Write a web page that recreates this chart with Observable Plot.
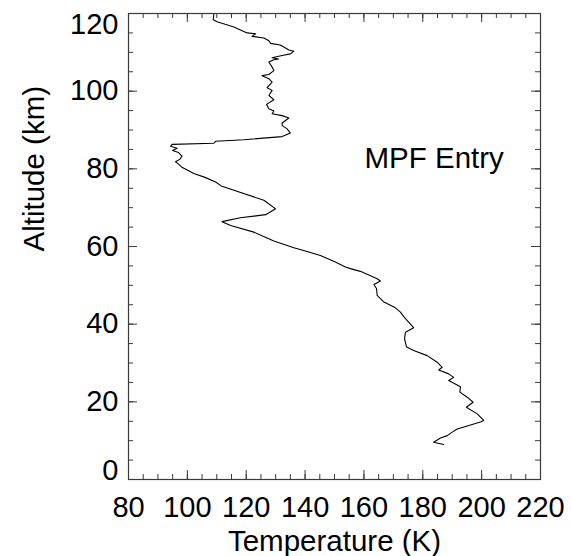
<!DOCTYPE html>
<html>
<head>
<meta charset="utf-8">
<script src="https://cdn.jsdelivr.net/npm/d3@7"></script>
<script src="https://cdn.jsdelivr.net/npm/@observablehq/plot@0.6"></script>
<style>
  html, body { margin: 0; padding: 0; background: #fff; }
  #chart svg { display: block; }
</style>
</head>
<body>
<div id="chart"></div>
<script>
// Temperature profile (K) vs altitude (km), top to bottom
const temperature = [
  109.0, 108.8, 110.1, 115.8, 120.3, 123.2, 122.0, 126.0, 127.7, 128.3,
  131.6, 134.5, 136.2, 135.0, 132.2, 128.8, 131.0, 129.4, 127.7, 128.8,
  129.4, 127.7, 125.4, 127.7, 128.8, 127.1, 128.8, 127.7, 129.4, 126.9,
  127.7, 129.4, 128.8, 132.2, 134.5, 132.2, 132.2, 133.9, 135.0, 132.2,
  119.2, 109.6, 109.0, 94.8, 94.3, 96.5, 95.0, 97.0, 98.2, 97.5,
  96.0, 97.0, 98.0, 102.2, 106.0, 109.6, 111.5, 126.0, 130.0, 126.6,
  118.0, 111.8, 114.7, 122.6, 127.1, 129.4, 136.2, 140.7, 145.2, 150.3,
  153.7, 155.4, 158.8, 164.5, 165.6, 163.4, 164.3, 164.5, 166.8, 170.7,
  172.4, 174.1, 176.9, 174.1, 173.8, 174.5, 176.9, 181.5, 184.9, 186.6,
  185.4, 188.8, 190.5, 188.8, 192.8, 192.6, 195.1, 197.1, 194.8, 198.5,
  200.7, 199.6, 191.7, 190.0, 188.3, 186.0, 183.7, 187.1
];
const altitude = [
  119.8, 118.4, 117.9, 116.5, 115.0, 114.8, 114.1, 113.7, 113.0, 112.3,
  111.9, 110.6, 110.3, 109.6, 109.2, 108.6, 108.3, 108.1, 107.5, 106.2,
  105.3, 104.3, 104.0, 103.2, 102.3, 100.9, 100.2, 98.9, 97.8, 96.6,
  95.5, 94.9, 94.2, 93.7, 93.1, 91.8, 91.2, 90.3, 89.2, 88.3,
  87.5, 87.1, 86.6, 86.3, 85.8, 85.3, 84.7, 84.2, 83.3, 82.5,
  81.8, 81.2, 80.5, 78.8, 77.8, 76.6, 75.6, 71.9, 69.7, 68.2,
  67.4, 66.4, 65.4, 63.7, 62.2, 61.4, 59.7, 58.7, 57.7, 56.0,
  54.7, 54.3, 53.6, 51.7, 51.1, 50.2, 49.1, 47.4, 45.7, 44.2,
  43.1, 41.4, 39.1, 37.9, 36.2, 34.1, 33.2, 31.9, 30.2, 28.9,
  28.2, 27.2, 26.3, 25.5, 23.9, 22.5, 21.2, 19.9, 18.6, 16.9,
  15.2, 14.8, 13.0, 12.2, 11.3, 10.7, 9.6, 9.0
];
const xTicks = [80, 100, 120, 140, 160, 180, 200, 220];
const yTicks = [0, 20, 40, 60, 80, 100, 120];
const xMinor = d3.range(80, 221, 5);
const yMinor = d3.range(0, 121, 5);
const xTitle = "Temperature (K)";
const yTitle = "Altitude (km)";
const annotation = {label: "MPF Entry", T: 160.2, alt: 80.3};

const profile = temperature.map((t, i) => ({T: t, alt: altitude[i]}));

const W = 571, H = 556;
const mL = 128, mR = 31, mT = 13, mB = 77;
const plotH = H - mT - mB, plotW = W - mL - mR;
const majorLen = 9, minorLen = 5;
const axisColor = "#3a3a3a";
const font = "'Liberation Sans', Arial, Helvetica, sans-serif";
const tickFont = 29, titleFont = 29.5;

const yLo = yTicks[0], yHi = yTicks[yTicks.length - 1];
const yMid = yTicks.filter(d => d !== yLo && d !== yHi);

const chart = Plot.plot({
  width: W,
  height: H,
  marginLeft: mL, marginRight: mR, marginTop: mT, marginBottom: mB,
  style: {fontFamily: font, background: "#fff", color: "#000"},
  x: {domain: [80, 220]},
  y: {domain: [0, 120]},
  marks: [
    // minor ticks (inward, mirrored on all four sides)
    Plot.ruleX(xMinor, {x: d => d, insetTop: plotH - minorLen, stroke: axisColor}),
    Plot.ruleX(xMinor, {x: d => d, insetBottom: plotH - minorLen, stroke: axisColor}),
    Plot.ruleY(yMinor, {y: d => d, insetRight: plotW - minorLen, stroke: axisColor}),
    Plot.ruleY(yMinor, {y: d => d, insetLeft: plotW - minorLen, stroke: axisColor}),
    // major ticks
    Plot.ruleX(xTicks, {x: d => d, insetTop: plotH - majorLen, stroke: axisColor}),
    Plot.ruleX(xTicks, {x: d => d, insetBottom: plotH - majorLen, stroke: axisColor}),
    Plot.ruleY(yTicks, {y: d => d, insetRight: plotW - majorLen, stroke: axisColor}),
    Plot.ruleY(yTicks, {y: d => d, insetLeft: plotW - majorLen, stroke: axisColor}),
    Plot.frame({stroke: axisColor, strokeWidth: 1.2}),
    // tick labels
    Plot.axisX({anchor: "bottom", ticks: xTicks, tickSize: 0, tickPadding: 17,
      fontSize: tickFont, label: null, tickFormat: d => String(d)}),
    Plot.axisY({anchor: "left", ticks: yMid, tickSize: 0, tickPadding: 10,
      fontSize: tickFont, label: null, tickFormat: d => String(d)}),
    // edge labels kept inside the frame's vertical extent
    Plot.text([yLo], {y: d => d, text: d => String(d), frameAnchor: "left", dx: -10,
      textAnchor: "end", lineAnchor: "bottom", fontSize: tickFont, fill: "#000"}),
    Plot.text([yHi], {y: d => d, text: d => String(d), frameAnchor: "left", dx: -10,
      textAnchor: "end", lineAnchor: "top", fontSize: tickFont, fill: "#000"}),
    // axis titles
    Plot.text([xTitle], {text: d => d, frameAnchor: "bottom", dy: 71,
      lineAnchor: "bottom", fontSize: titleFont, fill: "#000"}),
    Plot.text([yTitle], {text: d => d, frameAnchor: "left", dx: -85, dy: 5,
      rotate: -90, lineAnchor: "bottom", fontSize: titleFont, fill: "#000"}),
    // profile
    Plot.line(profile, {x: "T", y: "alt", stroke: "#000", strokeWidth: 1.1,
      curve: "linear"}),
    // annotation
    Plot.text([annotation], {x: "T", y: "alt", text: "label", textAnchor: "start",
      lineAnchor: "bottom", fontSize: titleFont, fill: "#000"})
  ]
});
document.getElementById("chart").appendChild(chart);
</script>
</body>
</html>
